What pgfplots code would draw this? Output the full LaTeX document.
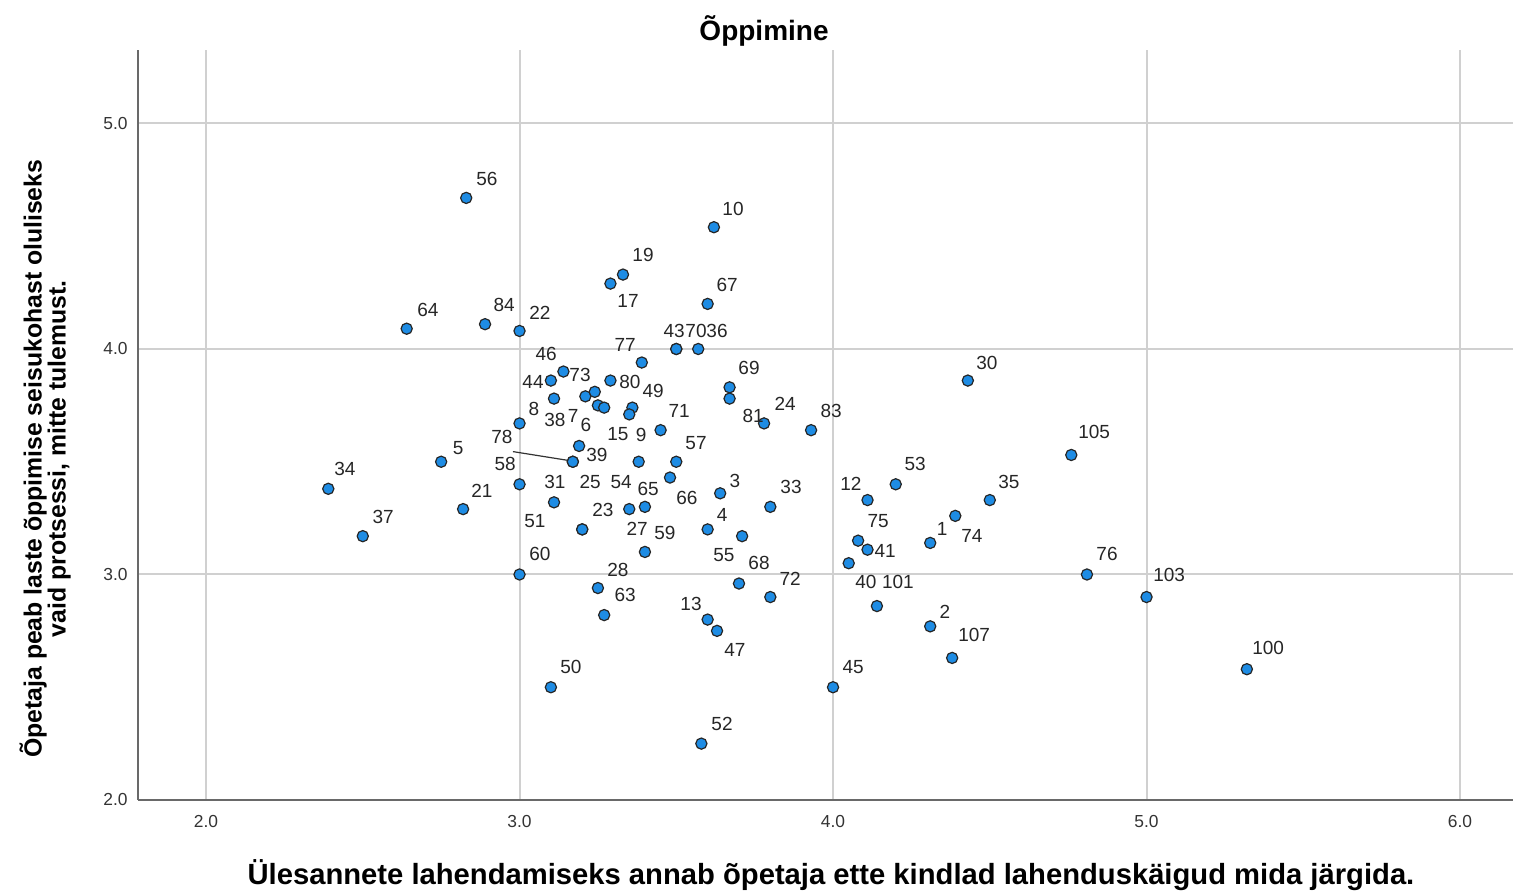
\documentclass[border=0pt]{standalone}
\usepackage{fontspec}
\setmainfont{Liberation Sans}
\usepackage{pgfplots}
\pgfplotsset{compat=1.18}
\usepackage{pgfplotstable}
\definecolor{ptfill}{RGB}{30,140,228}
\definecolor{gridc}{RGB}{208,208,208}
\definecolor{axc}{RGB}{105,105,105}
\pgfplotstableread{
lab x y lx ly
56 2.83 4.67 2.896 4.752
10 3.62 4.54 3.681 4.623
19 3.33 4.33 3.394 4.419
17 3.29 4.29 3.346 4.211
67 3.60 4.20 3.662 4.286
64 2.64 4.09 2.708 4.171
84 2.89 4.11 2.951 4.197
22 3.00 4.08 3.065 4.162
43 3.50 4.00 3.493 4.078
70 3.50 4.00 3.563 4.078
36 3.57 4.00 3.630 4.078
77 3.39 3.94 3.337 4.020
46 3.14 3.90 3.085 3.980
44 3.10 3.86 3.043 3.856
80 3.29 3.86 3.352 3.856
38 3.11 3.78 3.113 3.687
8 3.00 3.67 3.046 3.736
73 3.21 3.79 3.193 3.887
7 3.24 3.81 3.171 3.701
6 3.25 3.75 3.212 3.661
15 3.27 3.74 3.314 3.621
49 3.36 3.74 3.426 3.816
9 3.35 3.71 3.388 3.621
71 3.45 3.64 3.509 3.723
69 3.67 3.83 3.732 3.914
81 3.67 3.78 3.745 3.701
24 3.78 3.67 3.847 3.758
83 3.93 3.64 3.994 3.723
30 4.43 3.86 4.491 3.940
39 3.19 3.57 3.247 3.532
78 3.17 3.50 2.944 3.608
25 3.17 3.50 3.225 3.412
54 3.38 3.50 3.324 3.412
57 3.50 3.50 3.563 3.585
66 3.48 3.43 3.534 3.341
5 2.75 3.50 2.804 3.559
34 2.39 3.38 2.443 3.466
37 2.50 3.17 2.565 3.257
21 2.82 3.29 2.880 3.373
58 3.00 3.40 2.954 3.492
31 3.11 3.32 3.113 3.412
23 3.20 3.20 3.266 3.284
51 3.20 3.20 3.049 3.235
27 3.35 3.29 3.375 3.204
65 3.40 3.30 3.410 3.381
3 3.64 3.36 3.687 3.417
33 3.80 3.30 3.866 3.386
59 3.40 3.10 3.464 3.186
4 3.60 3.20 3.646 3.266
55 3.71 3.17 3.652 3.084
60 3.00 3.00 3.065 3.089
28 3.25 2.94 3.314 3.022
63 3.27 2.82 3.337 2.911
68 3.70 2.96 3.764 3.049
72 3.80 2.90 3.863 2.982
13 3.60 2.80 3.547 2.871
47 3.63 2.75 3.687 2.667
50 3.10 2.50 3.164 2.588
52 3.58 2.25 3.646 2.339
45 4.00 2.50 4.064 2.588
12 4.11 3.33 4.057 3.404
53 4.20 3.40 4.262 3.488
75 4.08 3.15 4.144 3.235
41 4.11 3.11 4.166 3.106
40 4.05 3.05 4.105 2.969
101 4.14 2.86 4.207 2.965
1 4.31 3.14 4.348 3.200
74 4.39 3.26 4.443 3.169
35 4.50 3.33 4.561 3.412
105 4.76 3.53 4.833 3.630
2 4.31 2.77 4.357 2.836
107 4.38 2.63 4.450 2.734
76 4.81 3.00 4.874 3.089
103 5.00 2.90 5.072 3.000
100 5.32 2.58 5.388 2.676
}\pts
\begin{document}
\begin{tikzpicture}
\begin{axis}[
  at={(0,0)}, anchor=south west,
  scale only axis, width=687.5pt, height=375pt,
  xmin=1.783, xmax=6.169, ymin=2, ymax=5.326,
  xtick={2,3,4,5,6}, ytick={2,3,4,5},
  axis x line*=bottom, axis y line*=left,
  axis line style={draw=axc, line width=1pt},
  major tick length=0pt,
  grid=major,
  major grid style={draw=gridc, line width=1pt},
  /pgf/number format/assume math mode=true,
  /pgf/number format/.cd, fixed, fixed zerofill, precision=1, /pgfplots/.cd,
  tick label style={font=\fontsize{8.7}{10}\selectfont, text=black!80},
  xticklabel style={anchor=center, yshift=-11pt},
  yticklabel style={anchor=east, inner sep=0pt, xshift=-5pt},
  title={\textbf{Õppimine}},
  every axis title/.style={at={(axis description cs:0.4553,1.025)}, anchor=center, font=\fontsize{14}{16}\selectfont},
  xlabel={\textbf{Ülesannete lahendamiseks annab õpetaja ette kindlad lahenduskäigud mida järgida.}},
  every axis x label/.style={at={(axis description cs:0.504,-0.1)}, anchor=center, font=\fontsize{14.6}{16}\selectfont},
  ylabel={\textbf{Õpetaja peab laste õppimise seisukohast oluliseks}\\\textbf{vaid protsessi, mitte tulemust.}},
  every axis y label/.style={at={(axis description cs:-0.0676,0.455)}, rotate=90, anchor=center, align=center, font=\fontsize{12.4}{12}\selectfont},
]
\addplot[only marks, mark=*, mark size=2.8pt, mark options={fill=ptfill, draw=black!85, line width=0.6pt}] table[x=x, y=y] {\pts};
\addplot[only marks, mark=*, mark size=0pt, scatter/use mapped color={draw=none, fill=none}, mark options={draw=none, fill=none}, nodes near coords, point meta=explicit symbolic,
  every node near coord/.append style={anchor=center, inner sep=0pt, font=\fontsize{9.5}{10}\selectfont, text=black!85}]
  table[x=lx, y=ly, meta=lab] {\pts};
\draw[black!80, line width=0.6pt] (axis cs:2.979,3.545) -- (axis cs:3.155,3.506);
\end{axis}
\pgfresetboundingbox
\path[use as bounding box] (-69pt,-46pt) rectangle (687.5pt,400pt);
\end{tikzpicture}
\end{document}
